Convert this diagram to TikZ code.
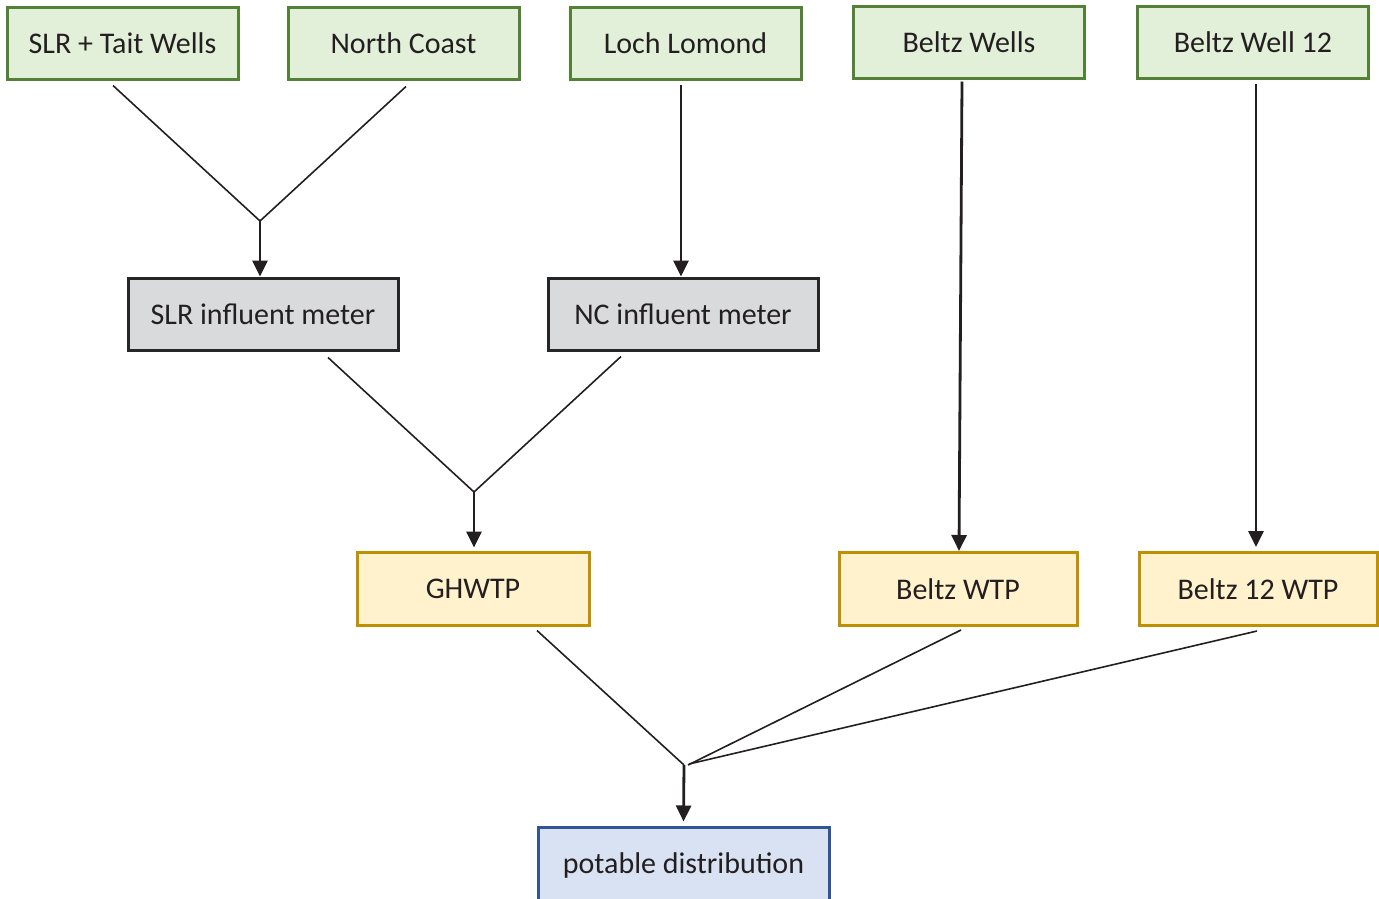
\documentclass[tikz,border=0pt]{standalone}
\usepackage{fontspec}
\setmainfont{Carlito}
\usetikzlibrary{arrows.meta,calc}
\definecolor{ink}{HTML}{231F20}
\definecolor{greenfill}{HTML}{E2EFD9}
\definecolor{greenline}{HTML}{538135}
\definecolor{grayfill}{HTML}{D9DADB}
\definecolor{grayline}{HTML}{262626}
\definecolor{yellowfill}{HTML}{FFF2CC}
\definecolor{yellowline}{HTML}{BF9000}
\definecolor{bluefill}{HTML}{D9E2F3}
\definecolor{blueline}{HTML}{2F5597}
\begin{document}
\begin{tikzpicture}[x=1pt,y=-1pt,
  box/.style={draw, line width=3pt, minimum height=72pt, inner sep=0pt,
    text=ink, font=\fontsize{30}{36}\selectfont},
  source/.style={box, fill=greenfill, draw=greenline, minimum width=231pt},
  meter/.style={box, fill=grayfill, draw=grayline, minimum width=270pt},
  plant/.style={box, fill=yellowfill, draw=yellowline, minimum height=73pt},
  outlet/.style={box, fill=bluefill, draw=blueline, minimum width=291pt, minimum height=76pt},
  link/.style={draw=ink, line width=1.6pt},
  feed/.style={draw=ink, line width=2.8pt, -{Triangle[length=16pt,width=15pt]}}]
\useasboundingbox (0,0) rectangle (1379,898);

% sources
\node[source] (slr)  at (122.5,43) {SLR + Tait Wells};
\node[source] (nc)   at (403.5,43) {North Coast};
\node[source] (ll)   at (685.5,43) {Loch Lomond};
\node[source] (bw)   at (969,42)   {Beltz Wells};
\node[source] (bw12) at (1253,42)  {Beltz Well 12};

% meters
\node[meter] (slrm) at (263,314) {SLR influent meter};
\node[meter] (ncm)  at (683,314) {NC influent meter};

% treatment plants
\node[plant, minimum width=232pt] (gh)    at (473,588.5) {GHWTP};
\node[plant, minimum width=238pt] (bwtp)  at (958,589)   {Beltz WTP};
\node[plant, minimum width=238pt] (b12tp) at (1258,589)  {Beltz 12 WTP};

% distribution
\node[outlet] (dist) at (683.5,865) {potable distribution};

% junctions
\coordinate (j1) at (260,221);
\coordinate (j2) at (474,492);
\coordinate (j3) at (684,765);

% top merge into SLR meter
\draw[link] ([shift={(-9.5,5)}]slr.south) -- (j1) -- ([shift={(2.5,6)}]nc.south);
\draw[feed] (j1) -- (j1 |- slrm.north);

% Loch Lomond into NC meter
\draw[feed] ([shift={(-4.5,4)}]ll.south) -- ([xshift=-2pt]ncm.north);

% Beltz wells into their plants
\draw[feed] ([shift={(-7,2)}]bw.south) -- ([xshift=1pt]bwtp.north);
\draw[feed] ([shift={(3,4)}]bw12.south) -- ([shift={(-2,-4)}]b12tp.north);

% meters into GHWTP
\draw[link] ([shift={(65,6)}]slrm.south) -- (j2) -- ([shift={(-62,5)}]ncm.south);
\draw[feed] (j2) -- ([shift={(1,-3)}]gh.north);

% plants into distribution
\draw[link] ([shift={(64,4)}]gh.south) -- (j3);
\draw[link] ([shift={(3,3)}]bwtp.south) -- ([xshift=4pt]j3);
\draw[link] ([shift={(-1,4)}]b12tp.south) -- ([shift={(5,-1)}]j3);
\draw[feed] (j3) -- ([yshift=4pt]dist.north);
\end{tikzpicture}
\end{document}
